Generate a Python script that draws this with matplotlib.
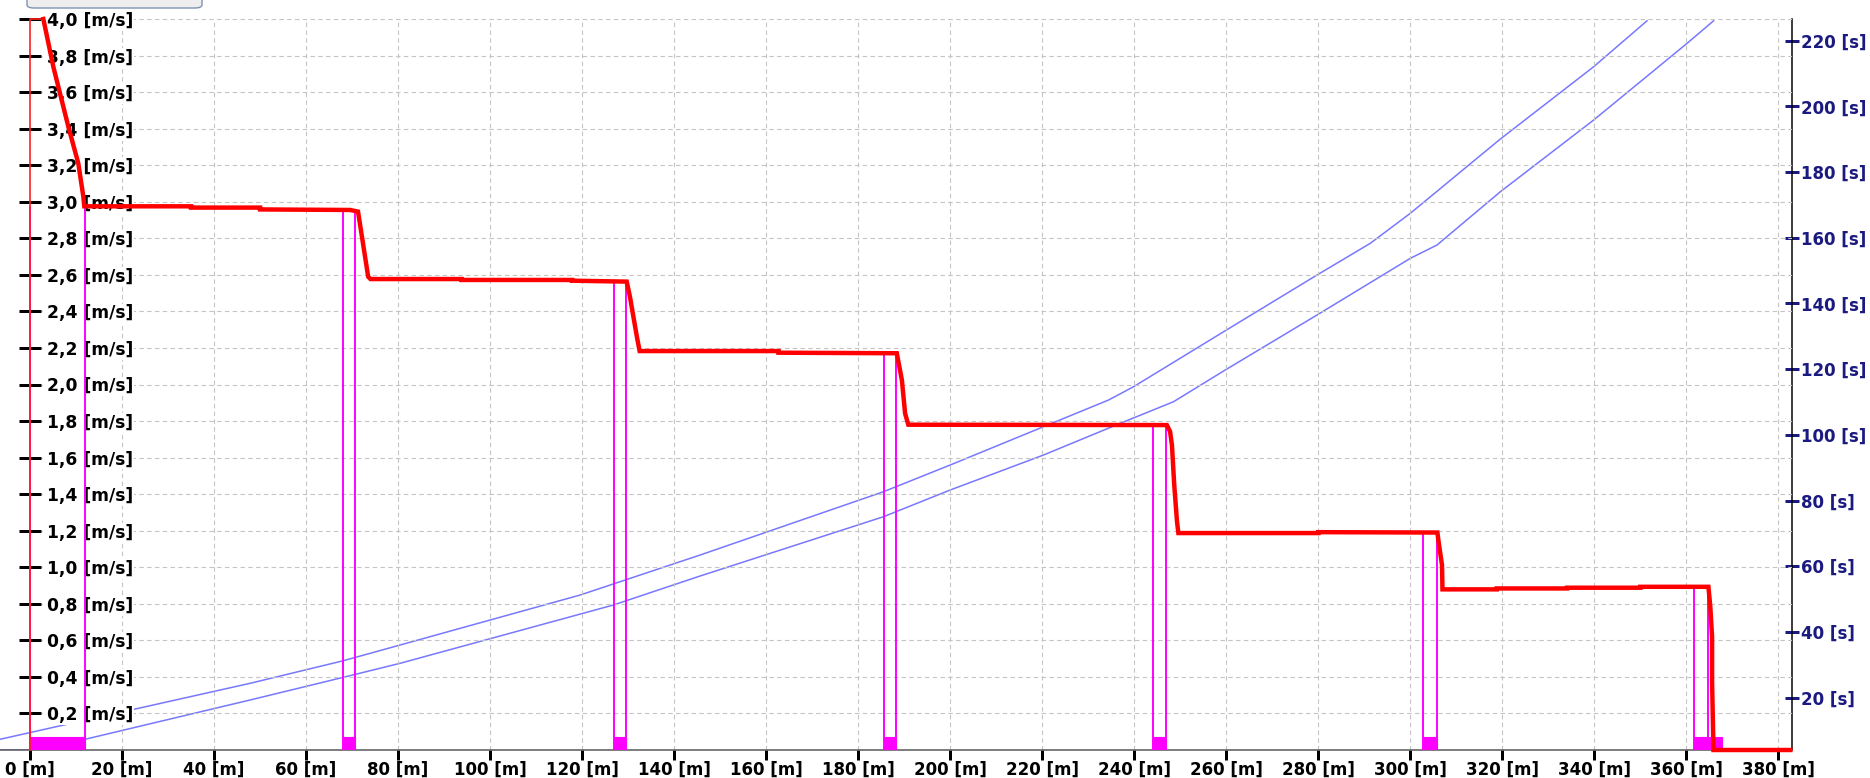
import matplotlib
matplotlib.use("Agg")
import matplotlib.pyplot as plt
from matplotlib.patches import Rectangle, FancyBboxPatch
from matplotlib.ticker import FixedLocator, FuncFormatter

# ---------------- data ----------------
launch_x = [0.0, 0.0, 2.9]
launch_v = [0.0, 4.0, 4.0]

dist_m = [2.9, 5.07, 8.33, 10.5, 11.59, 11.8, 35.0, 35.0, 50.0, 50.0, 69.6, 71.3, 73.5, 74.0,
          93.8, 93.8, 117.8, 117.8, 129.7, 130.4, 131.9, 132.5,
          162.7, 162.7, 188.4, 189.5, 190.2, 190.9,
          247.1, 247.8, 248.2, 248.7, 249.3, 249.6,
          280.0, 280.0, 305.9, 306.2, 306.9, 307.0,
          318.8, 318.8, 334.1, 334.1, 350.0, 350.0, 364.8, 365.2, 365.6, 365.6, 365.9, 382.6]
speed_ms = [4.0, 3.739, 3.411, 3.21, 3.028, 2.975, 2.975, 2.968, 2.968, 2.958, 2.955, 2.946, 2.59, 2.577,
            2.577, 2.572, 2.572, 2.568, 2.563, 2.48, 2.262, 2.183,
            2.183, 2.174, 2.171, 2.025, 1.842, 1.78,
            1.778, 1.742, 1.669, 1.45, 1.25, 1.187,
            1.187, 1.192, 1.19, 1.131, 1.012, 0.879,
            0.879, 0.884, 0.884, 0.888, 0.888, 0.893, 0.893, 0.788, 0.62, 0.374, 0.0, 0.0]

plan_x = [-6.52, 47.83, 68.11, 80.43, 119.57, 145.65, 185.5, 200.0, 220.28, 234.41, 239.85,
          259.78, 279.72, 291.3, 300.0, 319.57, 339.85, 351.46]
plan_t = [7.31, 24.35, 31.23, 36.01, 51.23, 63.41, 82.68, 90.81, 102.47, 110.59, 114.64,
          131.69, 148.65, 158.30, 167.43, 190.05, 212.05, 226.05]

real_x = [-6.52, 0.0, 11.96, 47.83, 68.11, 80.43, 126.8, 145.65, 185.5, 200.0, 220.28, 236.96,
          248.54, 259.78, 279.72, 300.0, 305.8, 319.57, 339.85, 360.15, 365.93]
real_t = [4.05, 4.05, 7.31, 19.27, 26.18, 30.44, 48.19, 57.02, 75.07, 83.2, 93.85, 103.5,
          110.08, 119.73, 136.47, 153.73, 157.78, 174.0, 195.83, 219.18, 226.05]

stop_left = [0.0, 68.1, 126.96, 185.65, 244.06, 302.76, 361.6]
stop_right = [11.96, 70.65, 129.5, 188.2, 246.96, 305.8, 364.8]
stop_speed = [2.975, 2.955, 2.563, 2.171, 1.778, 1.19, 0.893]
mark_right = [11.96, 70.65, 129.5, 188.2, 246.96, 305.8, 367.8]
mark_height = 0.073

x_ticks = list(range(0, 381, 20))
v_ticks = [round(0.2 * i, 1) for i in range(1, 21)]
t_ticks = list(range(20, 221, 20))

# ---------------- figure ----------------
W, H = 1870, 778
fig = plt.figure(figsize=(W / 100, H / 100), dpi=100)
PX = 0.72  # points per pixel at 100 dpi

ax = fig.add_axes([0, 28 / H, 1792 / W, 731 / H])
ax.set_xlim(-6.52, 382.97)
ax.set_ylim(0, 4.0)

ax2 = ax.twinx()
ax2.set_ylim(4.05, 226.6)

grid_kw = dict(color="#c4c4c4", lw=0.8, linestyle=(0, (4, 3)), zorder=0.5)
ax.hlines(v_ticks, 0, 382.97, **grid_kw)
ax.vlines(x_ticks[1:], 0, 4.0, **grid_kw)

# time lines (right axis)
ax2.plot(plan_x, plan_t, color="#7878ff", lw=1.1, zorder=2)
ax2.plot(real_x, real_t, color="#7878ff", lw=1.1, zorder=2)

# stop markers
ax.vlines(stop_left, 0, stop_speed, color="#ff00ff", lw=1.4, zorder=3)
ax.vlines(stop_right, 0, stop_speed, color="#ff00ff", lw=1.4, zorder=3)
for l, mr in zip(stop_left, mark_right):
    ax.add_patch(Rectangle((l, 0), mr - l, mark_height, fc="#ff00ff", ec="#ff00ff", lw=0.8, zorder=3))

# speed
ax.plot(launch_x, launch_v, color="#ff2020", lw=1.2, zorder=4, clip_on=False)
ax.plot(dist_m, speed_ms, color="#ff0000", lw=3.2, zorder=5, clip_on=False, solid_joinstyle="miter")

# draw ax above ax2 so red/magenta sit over the blue lines
ax.set_zorder(ax2.get_zorder() + 1)
ax.patch.set_visible(False)
ax2.patch.set_visible(True)
ax2.patch.set_facecolor("white")

# spines
for s in ["top", "right"]:
    ax.spines[s].set_visible(False)
ax.spines["left"].set_position(("data", 0))
ax.spines["left"].set_edgecolor("none")
ax.spines["bottom"].set_color("#555555")
ax.spines["bottom"].set_linewidth(1.5 * PX)
for s in ["top", "left", "bottom"]:
    ax2.spines[s].set_visible(False)
ax2.spines["right"].set_color("black")
ax2.spines["right"].set_linewidth(1.5 * PX)

# left axis ticks
ax.yaxis.set_major_locator(FixedLocator(v_ticks))
ax.yaxis.set_major_formatter(FuncFormatter(lambda v, p: f"{v:.1f}".replace(".", ",") + " [m/s]"))
ax.tick_params(axis="y", direction="inout", length=22 * PX, width=3 * PX, color="black",
               pad=-20.2, labelsize=12.3, labelcolor="black")
for lbl in ax.get_yticklabels():
    lbl.set_horizontalalignment("left")
    lbl.set_fontweight("bold")
    lbl.set_bbox(dict(fc="white", ec="none", pad=0.6))

# bottom ticks
ax.xaxis.set_major_locator(FixedLocator(x_ticks))
ax.xaxis.set_major_formatter(FuncFormatter(lambda v, p: f"{int(round(v))} [m]"))
ax.tick_params(axis="x", direction="out", length=10 * PX, width=3 * PX, color="black",
               pad=0.5, labelsize=12, labelcolor="black")
for lbl in ax.get_xticklabels():
    lbl.set_fontweight("bold")

# right ticks
ax2.yaxis.set_major_locator(FixedLocator(t_ticks))
ax2.yaxis.set_major_formatter(FuncFormatter(lambda v, p: f"{int(round(v))} [s]"))
ax2.tick_params(axis="y", direction="inout", length=14 * PX, width=3 * PX, color="#1a1a80",
                pad=1.5, labelsize=12, labelcolor="#1a1a80")
for lbl in ax2.get_yticklabels():
    lbl.set_fontweight("bold")

# partially visible button at the top
btn = FancyBboxPatch((27 / W, (H - 8) / H), 175 / W, 20 / H,
                     boxstyle="round,pad=0,rounding_size=0.004",
                     transform=fig.transFigure, fc="#eeeeee", ec="#7f93b0", lw=1.0,
                     clip_on=False)
fig.patches.append(btn)

fig.savefig("out.png", dpi=100)
